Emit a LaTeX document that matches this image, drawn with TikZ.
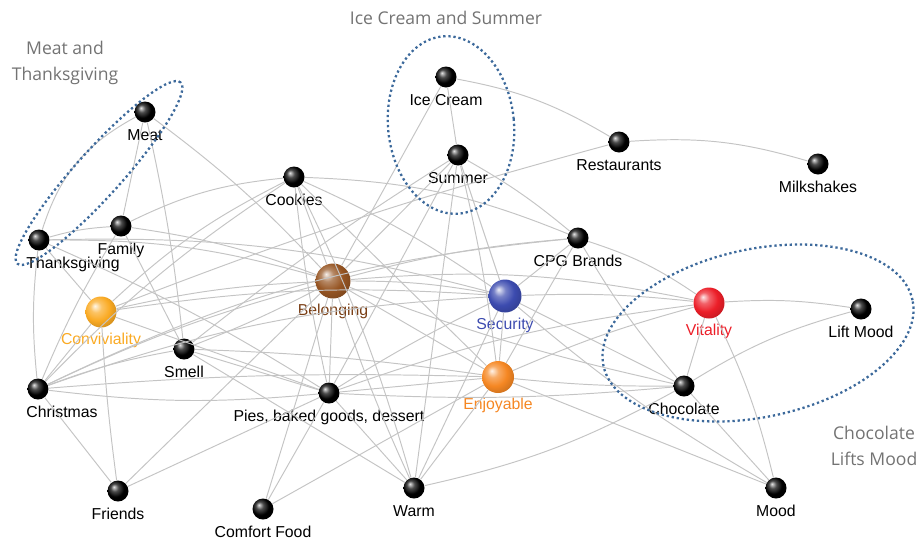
\documentclass[tikz,border=0pt]{standalone}
\usepackage{fontspec}
\setmainfont{Liberation Sans}
\newfontfamily\grpfont{Open Sans}
\usepackage{tikz}
\usepackage{xcolor}
\usetikzlibrary{positioning,calc}
\definecolor{belongbrown}{RGB}{150,85,35}
\definecolor{belongtext}{RGB}{122,62,20}
\definecolor{secblue}{RGB}{60,75,175}
\definecolor{vitred}{RGB}{236,30,40}
\definecolor{enjorange}{RGB}{245,135,35}
\definecolor{convorange}{RGB}{250,170,35}
\definecolor{grpblue}{RGB}{60,105,155}
\definecolor{edgegray}{RGB}{196,196,196}
\definecolor{grpgray}{RGB}{115,115,115}
\colorlet{shadecol}{black}
\pgfdeclareradialshading[shadecol]{shinyball}{\pgfqpoint{-10bp}{10bp}}{color(0bp)=(shadecol!10!white); color(9bp)=(shadecol!70!white); color(20bp)=(shadecol); color(30bp)=(shadecol!85!black); color(50bp)=(shadecol!65!black)}
\tikzset{
  ball/.style={circle, inner sep=0pt, minimum size=0.42cm, /utils/exec={\colorlet{shadecol}{black}}, shading=shinyball},
  bigball/.style={circle, inner sep=0pt, minimum size=0.7cm, /utils/exec={\colorlet{shadecol}{#1}}, shading=shinyball},
  lbl/.style={font=\fontsize{9}{10}\selectfont, inner sep=1pt, label distance=2.5pt},
  edge/.style={draw=edgegray, line width=0.55pt},
  grp/.style={draw=grpblue, line width=1.3pt, dash pattern=on 1.3pt off 1.6pt},
  grptext/.style={text=grpgray, font=\grpfont\fontsize{10}{15}\selectfont, align=center}
}
\begin{document}
\begin{tikzpicture}[x=0.02cm, y=-0.02cm]
        \useasboundingbox (0,0) rectangle (918,542);
        \node[ball, label={[lbl]below:Meat}] (meat) at (145,112) {};
        \node[ball, label={[lbl, xshift=0.68cm]below:Thanksgiving}] (thanks) at (39,240) {};
        \node[ball, label={[lbl]below:Family}] (family) at (121,226) {};
        \node[ball, label={[lbl]below:Cookies}] (cookies) at (294,177) {};
        \node[ball, label={[lbl]below:Ice Cream}] (icecream) at (446,77) {};
        \node[ball, label={[lbl]below:Summer}] (summer) at (458,155) {};
        \node[ball, label={[lbl]below:Restaurants}] (restaurants) at (619,142) {};
        \node[ball, label={[lbl]below:Milkshakes}] (milkshakes) at (818,164) {};
        \node[ball, label={[lbl]below:CPG Brands}] (cpg) at (578,238) {};
        \node[bigball=belongbrown, label={[lbl, text=belongtext, label distance=1.5pt]below:Belonging}] (belong) at (333,281) {};
        \node[bigball=secblue, minimum size=0.66cm, label={[lbl, text=secblue, label distance=1.5pt]below:Security}] (security) at (505,296) {};
        \node[bigball=vitred, minimum size=0.62cm, label={[lbl, text=vitred, label distance=1.5pt]below:Vitality}] (vitality) at (709,303) {};
        \node[ball, label={[lbl]below:Lift Mood}] (liftmood) at (861,309) {};
        \node[bigball=convorange, minimum size=0.62cm, label={[lbl, text=convorange, label distance=1.5pt]below:Conviviality}] (conviv) at (101,312) {};
        \node[ball, label={[lbl]below:Smell}] (smell) at (184,349) {};
        \node[ball, label={[lbl, xshift=0.48cm]below:Christmas}] (christmas) at (38,389) {};
        \node[ball, label={[lbl]below:{Pies, baked goods, dessert}}] (pies) at (329,393) {};
        \node[bigball=enjorange, minimum size=0.64cm, label={[lbl, text=enjorange, label distance=1.5pt]below:Enjoyable}] (enjoy) at (498,377) {};
        \node[ball, label={[lbl]below:Chocolate}] (chocolate) at (684,386) {};
        \node[ball, label={[lbl]below:Friends}] (friends) at (118,491) {};
        \node[ball, label={[lbl]below:Comfort Food}] (comfort) at (263,509) {};
        \node[ball, label={[lbl]below:Warm}] (warm) at (414,488) {};
        \node[ball, label={[lbl]below:Mood}] (mood) at (776,488) {};
        \foreach \a/\b/\c in {meat/thanks/-22, meat/family/0, meat/smell/3, meat/belong/5,
            thanks/family/6, thanks/belong/8, thanks/conviv/0, thanks/christmas/-6, thanks/pies/4, thanks/security/8,
            family/belong/6, family/christmas/-4, family/smell/0,
            cookies/family/-10, cookies/belong/0, cookies/pies/-3, cookies/conviv/-8, cookies/cpg/10,
            cookies/security/5, cookies/enjoy/0, cookies/warm/5, cookies/christmas/-6,
            icecream/summer/0, icecream/restaurants/10, icecream/belong/0,
            summer/belong/0, summer/security/0, summer/enjoy/3, summer/warm/0, summer/cpg/5, summer/pies/0, summer/smell/-3,
            restaurants/milkshakes/10, restaurants/conviv/-3,
            cpg/belong/-5, cpg/security/0, cpg/enjoy/0, cpg/chocolate/-5, cpg/vitality/8, cpg/christmas/-10,
            belong/security/5, belong/vitality/8, belong/enjoy/0, belong/pies/0, belong/christmas/-5, belong/conviv/-5,
            belong/smell/3, belong/friends/0, belong/comfort/0, belong/warm/-3, belong/chocolate/-4,
            security/vitality/4, security/chocolate/0, security/enjoy/0, security/mood/-5, security/warm/0,
            security/pies/-3, security/christmas/-8, security/conviv/-6,
            vitality/liftmood/6, vitality/chocolate/0, vitality/mood/6, vitality/enjoy/-4, vitality/pies/-6,
            liftmood/chocolate/-8, chocolate/mood/0, chocolate/warm/8, chocolate/enjoy/3, pies/chocolate/-4,
            enjoy/mood/0, enjoy/warm/0, enjoy/pies/0, enjoy/christmas/-3, enjoy/smell/-3,
            pies/warm/0, pies/comfort/0, pies/friends/0, pies/christmas/6, pies/smell/0,
            christmas/friends/0, christmas/smell/5, christmas/conviv/0,
            conviv/friends/-2, conviv/pies/0, comfort/enjoy/0, warm/smell/0}
            \draw[edge] (\a) to[bend left=\c] (\b);
        \draw[grp, rotate around={48:(99,173)}] (99,173) ellipse [x radius=2.44cm, y radius=0.46cm];
        \draw[grp, rotate around={5.5:(451,125)}] (451,125) ellipse [x radius=1.26cm, y radius=1.78cm];
        \draw[grp, rotate around={12:(758,333)}] (758,333) ellipse [x radius=3.16cm, y radius=1.68cm];
        \node[grptext] (meatgrp) at (65,63) {Meat and\\Thanksgiving};
        \node[grptext] (icegrp) at (446,18) {Ice Cream and Summer};
        \node[grptext] (chocgrp) at (874,446) {Chocolate\\Lifts Mood};
\end{tikzpicture}
\end{document}
